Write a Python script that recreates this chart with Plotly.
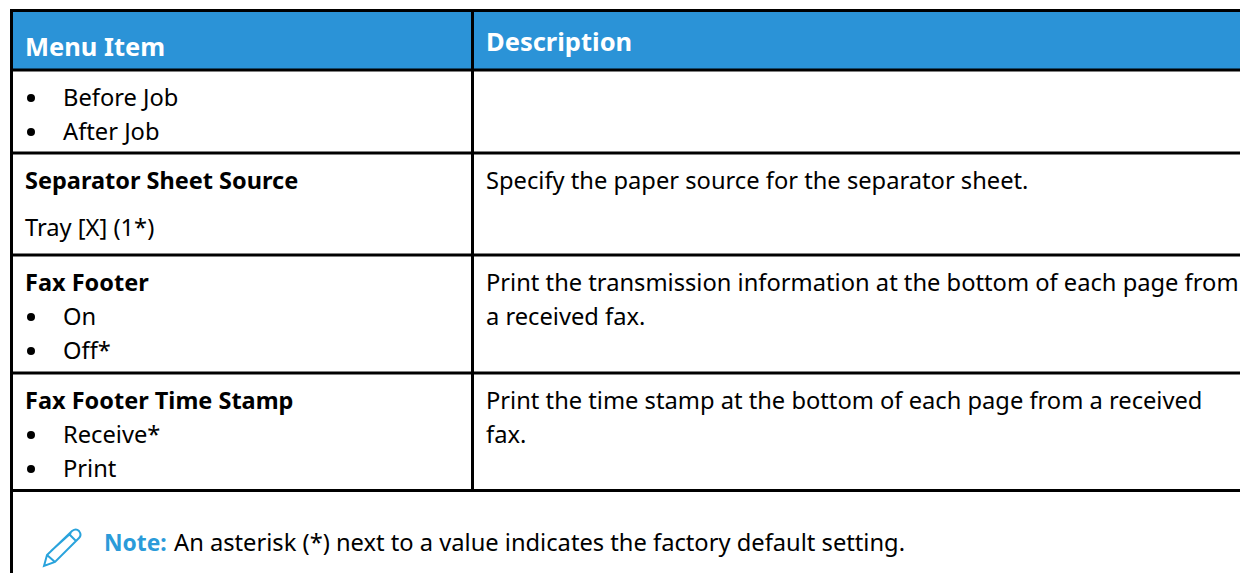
import plotly.graph_objects as go

WIDTH, HEIGHT = 1248, 573
PAGE_MARGIN = 8  # the browser's default body margin
BLUE = "#2B93D7"
FONT = "Noto Sans"

# table content
headers = ["Menu Item", "Description"]
header_y = [46, 41]
left_plain = ["Tray [X] (1*)"]
left_plain_y = [227]
left_bold = ["Separator Sheet Source", "Fax Footer", "Fax Footer Time Stamp"]
left_bold_y = [180, 282, 400]
bullet_items = ["Before Job", "After Job", "On", "Off*", "Receive*", "Print"]
bullet_y = [97, 131, 316, 350, 434, 468]
descriptions = [
    "Specify the paper source for the separator sheet.",
    "Print the transmission information at the bottom of each page from",
    "a received fax.",
    "Print the time stamp at the bottom of each page from a received",
    "fax.",
]
description_y = [180, 282, 316, 400, 434]
note_label = "Note:"
note_text = "An asterisk (*) next to a value indicates the factory default setting."
note_y = 542

# grid
row_rules = [70, 153, 255, 373, 490.5]
fig = go.Figure()

fig.add_shape(type="rect", x0=10, x1=WIDTH, y0=10, y1=70, fillcolor=BLUE, line_width=0, layer="below")
fig.add_shape(type="line", x0=10, x1=WIDTH, y0=10.5, y1=10.5, line=dict(color="black", width=3))
for y in row_rules:
    fig.add_shape(type="line", x0=11, x1=WIDTH, y0=y, y1=y, line=dict(color="black", width=3))
fig.add_shape(type="line", x0=11.5, x1=11.5, y0=9, y1=HEIGHT, line=dict(color="black", width=3))
fig.add_shape(type="line", x0=472.5, x1=472.5, y0=9, y1=492, line=dict(color="black", width=3))

# pencil icon
fig.add_shape(
    type="path",
    path="M 44 566 L 47 555 L 72 531 Q 76 528 79 531 Q 82 535 79 538 L 55 562 Z "
         "M 47 555 L 55 562 M 69 534 L 76 541 M 51 551 L 71 533",
    line=dict(color="#29A3DC", width=2),
    fillcolor="rgba(0,0,0,0)",
)

# bullets
fig.add_trace(go.Scatter(
    x=[31] * len(bullet_y), y=[y + 1 for y in bullet_y], mode="markers",
    marker=dict(color="black", size=8), hoverinfo="skip", showlegend=False,
))

def put(x, y, text, size=23.7, color="black", bold=False):
    fig.add_annotation(
        x=x, y=y, text=f"<b>{text}</b>" if bold else text, showarrow=False,
        xanchor="left", yanchor="middle", align="left", borderpad=0,
        font=dict(family=FONT, size=size, color=color),
    )

put(24, header_y[0], headers[0], size=25.5, color="white", bold=True)
put(485, header_y[1], headers[1], size=25.5, color="white", bold=True)
for t, y in zip(left_bold, left_bold_y):
    put(24, y, t, size=23.5, bold=True)
for t, y in zip(left_plain, left_plain_y):
    put(24, y, t)
for t, y in zip(bullet_items, bullet_y):
    put(62, y, t)
for t, y in zip(descriptions, description_y):
    put(485, y, t)
put(103, note_y, note_label, size=22.8, color="#2B9BD9", bold=True)
put(173, note_y, note_text)

fig.update_layout(
    width=WIDTH - PAGE_MARGIN, height=HEIGHT - PAGE_MARGIN,
    margin=dict(l=0, r=0, t=0, b=0),
    paper_bgcolor="white", plot_bgcolor="white",
    xaxis=dict(range=[PAGE_MARGIN, WIDTH], visible=False, fixedrange=True),
    yaxis=dict(range=[HEIGHT, PAGE_MARGIN], visible=False, fixedrange=True),
    showlegend=False,
)
fig.write_html("out.html", config={"displayModeBar": False})
